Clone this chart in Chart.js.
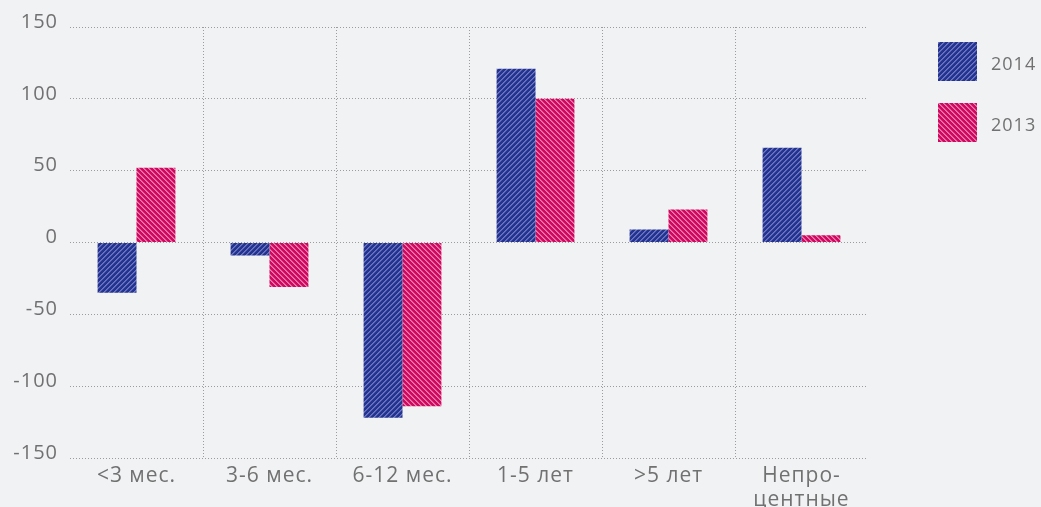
<!DOCTYPE html>
<html>
<head>
<meta charset="utf-8">
<script src="https://cdn.jsdelivr.net/npm/chart.js@4"></script>
<style>
  html, body { margin: 0; padding: 0; background: #f1f2f4; }
  #wrap { width: 1041px; height: 507px; position: relative; }
</style>
</head>
<body>
<div id="wrap"><canvas id="c" width="1041" height="507"></canvas></div>
<script>
const categories = ['<3 мес.', '3-6 мес.', '6-12 мес.', '1-5 лет', '>5 лет', ['Непро-', 'центные']];
const seriesNames = ['2014', '2013'];
const values2014 = [-35, -9, -122, 121, 9, 66];
const values2013 = [52, -31, -114, 100, 23, 5];
const yTicks = [150, 100, 50, 0, -50, -100, -150];

function makePattern(base, stripe, mid, dir) {
  const n = 5;
  const cv = document.createElement('canvas');
  cv.width = n; cv.height = n;
  const g = cv.getContext('2d');
  g.fillStyle = base; g.fillRect(0, 0, n, n);
  for (let y = 0; y < n; y++) {
    for (let x = 0; x < n; x++) {
      const k = dir === '/' ? (x + y) % n : (((x - y) % n) + n) % n;
      if (k === 0) { g.fillStyle = stripe; g.fillRect(x, y, 1, 1); }
      else if (k === 1) { g.fillStyle = mid; g.fillRect(x, y, 1, 1); }
    }
  }
  return g.createPattern(cv, 'repeat');
}

const canvas = document.getElementById('c');

const blueP = makePattern('#22348e', '#6f76c4', '#5860b4', '/');
const pinkP = makePattern('#d2075f', '#ea80ad', '#e05893', '\\');

const textColor = '#717171';
const gridColor = '#9c9c9c';
const FONT = "'Open Sans', 'Noto Sans', sans-serif";

function spacing(chart) { try { chart.ctx.letterSpacing = '1px'; } catch (e) {} }

const spacingPlugin = {
  id: 'spacing',
  beforeUpdate(chart) { spacing(chart); },
  beforeLayout(chart) { spacing(chart); },
  beforeDraw(chart) { spacing(chart); }
};

const legendPlugin = {
  id: 'sideLegend',
  afterDraw(chart) {
    const c = chart.ctx;
    c.save();
    try { c.letterSpacing = '1px'; } catch (e) {}
    chart.data.datasets.forEach((ds, i) => {
      const bx = 938, by = 42 + i * 61, s = 39;
      c.fillStyle = ds.backgroundColor;
      c.fillRect(bx, by, s, s);
      c.fillStyle = textColor;
      c.font = "18px " + FONT;
      c.textAlign = 'left';
      c.textBaseline = 'middle';
      c.fillText(ds.label, 991, by + s / 2 + 3);
    });
    c.restore();
  }
};

new Chart(canvas, {
  type: 'bar',
  data: {
    labels: categories,
    datasets: [
      { label: seriesNames[0], data: values2014, backgroundColor: blueP, borderWidth: 0 },
      { label: seriesNames[1], data: values2013, backgroundColor: pinkP, borderWidth: 0 }
    ]
  },
  options: {
    responsive: false,
    animation: false,
    events: [],
    layout: { padding: { top: 27, right: 173, bottom: 0, left: 0 } },
    datasets: { bar: { categoryPercentage: 0.585, barPercentage: 1.0 } },
    plugins: { legend: { display: false }, tooltip: { enabled: false } },
    scales: {
      x: {
        offset: true,
        grid: {
          offset: true,
          drawTicks: false,
          color: (c) => (c.type !== 'tick' || c.index === 0 || c.index >= categories.length) ? 'rgba(0,0,0,0)' : gridColor,
          lineWidth: 1
        },
        border: { display: false, dash: [1, 2] },
        ticks: {
          color: textColor,
          font: { family: FONT, size: 21, lineHeight: 1.15 },
          padding: 6,
          maxRotation: 0,
          autoSkip: false
        },
        afterFit(scale) { scale.height = 49; }
      },
      y: {
        min: -150,
        max: 150,
        afterBuildTicks(scale) { scale.ticks = yTicks.map(v => ({ value: v })); },
        grid: { drawTicks: false, color: gridColor, lineWidth: 1 },
        border: { display: false, dash: [1, 2] },
        ticks: {
          color: textColor,
          font: { family: FONT, size: 20 },
          padding: 12,
          labelOffset: -5
        },
        afterFit(scale) { scale.width = 70; }
      }
    }
  },
  plugins: [spacingPlugin, legendPlugin]
});
</script>
</body>
</html>
